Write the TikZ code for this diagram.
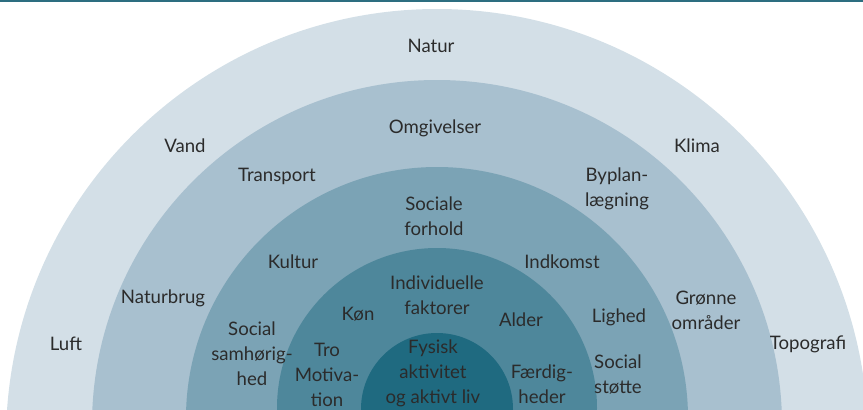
\documentclass[tikz,border=0pt]{standalone}
\usepackage{fontspec}
\setmainfont{Lato}
\usetikzlibrary{positioning}

\definecolor{ringA}{HTML}{D3DFE7}
\definecolor{ringB}{HTML}{A8C0CF}
\definecolor{ringC}{HTML}{7BA3B5}
\definecolor{ringD}{HTML}{4E879B}
\definecolor{ringE}{HTML}{1F6A80}
\definecolor{topline}{HTML}{2D6E80}
\definecolor{labeltext}{HTML}{2B2B2B}

\begin{document}
\begin{tikzpicture}[
    x=1pt, y=-1pt,
    lbl/.style={align=center, inner sep=0pt, text=labeltext, font=\fontsize{18.6}{25}\selectfont},
    ring/.style={draw=none}
]
\useasboundingbox (0,0) rectangle (863,410);

% Rings
\begin{scope}
\clip (0,0) rectangle (863,410);
\fill[ring, ringA] (437,440) circle (431);
\fill[ring, ringB] (437,425) circle (345);
\fill[ring, ringC] (437,418) circle (251);
\fill[ring, ringD] (437,408) circle (160);
\fill[ring, ringE] (437,409) circle (76);
\end{scope}

% Top rule
\draw[topline, line width=2pt] (0,1) -- (863,1);

% Natur
\node[lbl] (natur) at (431,46) {Natur};
\node[lbl] (vand) at (185,146) {Vand};
\node[lbl] (klima) at (697,146) {Klima};
\node[lbl] (naturbrug) at (163,298) {Naturbrug};
\node[lbl] (luft) at (66,344) {Luft};
\node[lbl] (topografi) at (808,344) {Topografi};

% Omgivelser
\node[lbl] (omgiv) at (435,128) {Omgivelser};
\node[lbl] (transport) at (277,176) {Transport};
\node[lbl] (byplan) at (617,189) {Byplan-\\lægning};
\node[lbl] (groenne) at (706,310) {Grønne\\områder};

% Sociale forhold
\node[lbl] (sociale) at (434,216) {Sociale\\forhold};
\node[lbl] (kultur) at (293,262) {Kultur};
\node[lbl] (indkomst) at (562,262) {Indkomst};
\node[lbl] (lighed) at (619,317) {Lighed};
\node[lbl] (samhoer) at (252,354) {Social\\samhørig-\\hed};
\node[lbl] (stoette) at (618,374) {Social\\støtte};

% Individuelle faktorer
\node[lbl] (individ) at (437,295) {Individuelle\\faktorer};
\node[lbl] (koen) at (358,314) {Køn};
\node[lbl] (alder) at (521,320) {Alder};
\node[lbl] (tro) at (327,375) {Tro\\Motiva-\\tion};
\node[lbl] (faerdig) at (542,384) {Færdig-\\heder};

% Fysisk aktivitet
\node[lbl] (fysisk) at (433,373) {Fysisk\\aktivitet\\og aktivt liv};

\end{tikzpicture}
\end{document}
